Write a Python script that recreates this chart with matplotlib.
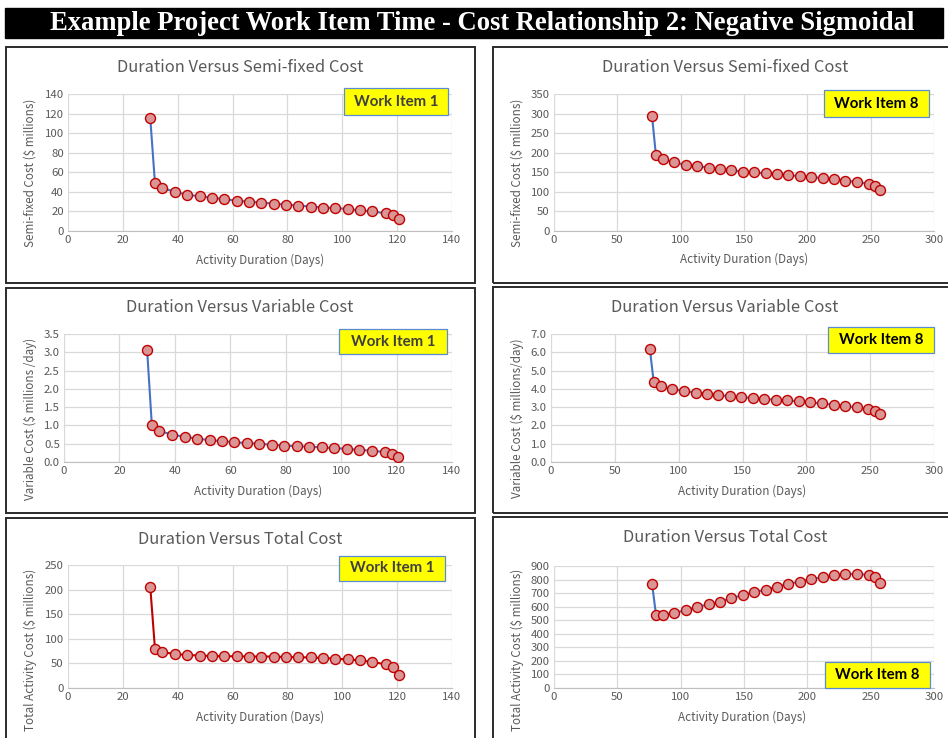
import matplotlib
matplotlib.use("Agg")
import matplotlib.pyplot as plt
from matplotlib.patches import Rectangle
from matplotlib.ticker import FormatStrFormatter

# Work Item 1 data
dur_1 = [30, 31.7, 34.3, 39, 43.5, 48, 52.5, 57, 61.5, 66, 70.5, 75, 79.5, 84,
         88.5, 93, 97.5, 102, 106.5, 111, 115.8, 118.5, 120.5]
semi_1 = [115, 49, 44, 40, 37, 35.5, 34, 32.5, 31, 30, 29, 28, 27, 26, 25, 24,
          23.5, 22.5, 21, 20, 18, 16, 12]
var_1 = [3.05, 1.0, 0.85, 0.75, 0.69, 0.64, 0.60, 0.57, 0.54, 0.52, 0.50, 0.47,
         0.45, 0.43, 0.42, 0.40, 0.38, 0.36, 0.33, 0.31, 0.27, 0.23, 0.13]
total_1 = [205, 80, 73, 69, 67, 66, 65, 64.5, 64.5, 64, 64, 64, 63, 62.5, 62,
           61, 59.5, 58, 56, 53, 48, 43, 27]

# Work Item 8 data
dur_8 = [77.4, 80.5, 85.8, 95, 104.2, 113.2, 122, 131, 140, 149, 158, 167, 176,
         185, 194, 203, 212.4, 221.3, 230, 239.5, 248.4, 253.7, 257.4]
semi_8 = [293, 193, 184, 175, 169, 165, 162, 158, 155, 152, 150, 147, 145, 143,
          140, 138, 135, 133, 129, 125, 120, 114, 105]
var_8 = [6.2, 4.35, 4.15, 4.0, 3.88, 3.8, 3.73, 3.66, 3.6, 3.55, 3.5, 3.46, 3.4,
         3.37, 3.32, 3.26, 3.2, 3.13, 3.06, 2.99, 2.88, 2.79, 2.6]
total_8 = [770, 542, 540, 554, 574, 598, 617, 637, 663, 685, 705, 726, 746, 768,
           785, 804, 816, 830, 840, 843, 833, 816, 772]

W, H = 948, 738
fig = plt.figure(figsize=(W / 100, H / 100), dpi=100)
fig.patch.set_facecolor("white")

FONT = ["Noto Sans CJK SC", "DejaVu Sans"]
GRAY = "#595959"


def px_axes(l, t, r, b):
    return fig.add_axes([l / W, 1 - b / H, (r - l) / W, (b - t) / H])


def box(l, t, r, b):
    fig.patches.append(Rectangle((l / W, 1 - b / H), (r - l) / W, (b - t) / H,
                                 transform=fig.transFigure, fill=False,
                                 edgecolor="#2b2b2b", lw=1.4))


def panel(rect, x, y, line_color, xmax, xstep, ymax, ystep, yfmt, title,
          ylabel, title_xy, xlab_xy, ylab_xy, tag, tag_rect, tag_color):
    l, t, r, b = rect
    ax = px_axes(l, t, r, b)
    ax.plot(x, y, color=line_color, lw=1.5, marker="o", ms=7.2,
            mfc="#d99694", mec="#c00000", mew=1.0, zorder=3)
    ax.set_xlim(0, xmax)
    ax.set_ylim(0, ymax)
    ax.set_xticks([i * xstep for i in range(int(round(xmax / xstep)) + 1)])
    ax.set_yticks([i * ystep for i in range(int(round(ymax / ystep)) + 1)])
    ax.yaxis.set_major_formatter(FormatStrFormatter(yfmt))
    ax.grid(True, color="#d9d9d9", lw=0.9)
    ax.set_axisbelow(True)
    for s in ["top", "right", "left"]:
        ax.spines[s].set_visible(False)
    ax.spines["bottom"].set_color("#bfbfbf")
    ax.tick_params(length=0, labelsize=8.2, labelcolor=GRAY, pad=3)
    for lab in ax.get_xticklabels() + ax.get_yticklabels():
        lab.set_family(FONT)
    fig.text(title_xy[0] / W, 1 - title_xy[1] / H, title, ha="center",
             va="center", fontsize=11.9, color=GRAY, family=FONT)
    fig.text(xlab_xy[0] / W, 1 - xlab_xy[1] / H, "Activity Duration (Days)",
             ha="center", va="center", fontsize=8.4, color=GRAY, family=FONT)
    fig.text(ylab_xy[0] / W, 1 - ylab_xy[1] / H, ylabel, ha="center",
             va="center", rotation=90, fontsize=8.4, color=GRAY, family=FONT)
    tl, tt, tr, tb = tag_rect
    fig.patches.append(Rectangle((tl / W, 1 - tb / H), (tr - tl) / W,
                                 (tb - tt) / H, transform=fig.transFigure,
                                 facecolor="#ffff00", edgecolor="#5b8bd0",
                                 lw=0.9, zorder=5))
    fig.text((tl + tr) / 2 / W, 1 - (tt + tb) / 2 / H, tag, ha="center",
             va="center", fontsize=10.8, weight="bold", color=tag_color,
             family="Lato", zorder=6)
    return ax


# header bar
fig.patches.append(Rectangle((5 / W, 1 - 38 / H), 938 / W, 30 / H,
                             transform=fig.transFigure, facecolor="black",
                             edgecolor="black"))
fig.text(482 / W, 1 - 23 / H,
         "Example Project Work Item Time - Cost Relationship 2: Negative Sigmoidal",
         ha="center", va="center", color="white", fontsize=19.2, weight="bold",
         family="Liberation Serif")

# panel frames
box(6, 47, 475, 283)
box(6, 288, 475, 513)
box(6, 518, 475, 745)
box(493, 47, 955, 283)
box(493, 287, 955, 513)
box(493, 517, 955, 745)

# left column - Work Item 1
panel((68, 94, 452, 231), dur_1, semi_1, "#4472c4", 140, 20, 140, 20, "%d",
      "Duration Versus Semi-fixed Cost", "Semi-fixed Cost (\\$ millions)",
      (240, 68), (260, 260), (30, 173),
      "Work Item 1", (344, 88, 448, 115), "#3f3f3f")
panel((64, 334, 452, 462), dur_1, var_1, "#4472c4", 140, 20, 3.5, 0.5, "%.1f",
      "Duration Versus Variable Cost", "Variable Cost (\\$ millions /day)",
      (240, 307), (258, 491), (30, 419),
      "Work Item 1", (339, 329, 447, 354), "#3f3f3f")
panel((68, 565, 452, 688), dur_1, total_1, "#c00000", 140, 20, 250, 50, "%d",
      "Duration Versus Total Cost", "Total Activity Cost (\\$ millions)",
      (240, 539), (260, 717), (30, 650),
      "Work Item 1", (339, 556, 445, 581), "#3f3f3f")

# right column - Work Item 8
panel((554, 94, 934, 231), dur_8, semi_8, "#4472c4", 300, 50, 350, 50, "%d",
      "Duration Versus Semi-fixed Cost", "Semi-fixed Cost (\\$ millions)",
      (725, 68), (744, 259), (517, 173),
      "Work Item 8", (824, 90, 929, 117), "black")
panel((551, 334, 934, 462), dur_8, var_8, "#4472c4", 300, 50, 7.0, 1.0, "%.1f",
      "Duration Versus Variable Cost", "Variable Cost (\\$ millions/day)",
      (725, 307), (742, 491), (517, 418),
      "Work Item 8", (828, 327, 934, 353), "black")
panel((554, 566, 934, 688), dur_8, total_8, "#4472c4", 300, 50, 900, 100, "%d",
      "Duration Versus Total Cost", "Total Activity Cost (\\$ millions)",
      (725, 538), (742, 717), (517, 650),
      "Work Item 8", (825, 662, 930, 688), "black")

fig.savefig("out.png", dpi=100)
